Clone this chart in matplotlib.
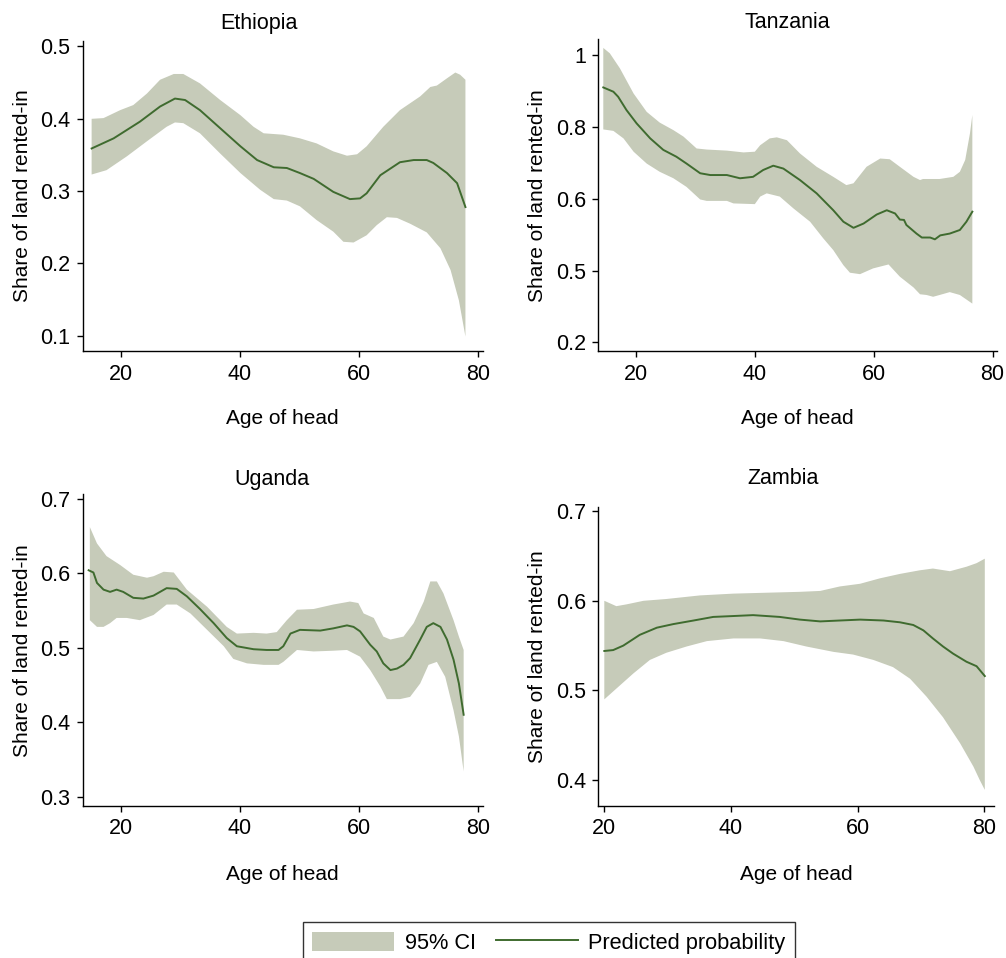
import numpy as np
import matplotlib
matplotlib.use("Agg")
from matplotlib import pyplot as plt
from matplotlib.patches import Patch
from matplotlib.lines import Line2D

plt.rcParams['font.family'] = ['Liberation Sans', 'DejaVu Sans']

FILL = '#c6cbb9'
LINE = '#3f6b2f'

# Ethiopia
eth_age = [15.1, 18.8, 23.2, 26.6, 29.1, 30.8, 33.3, 36.7, 40.1, 42.9, 45.7, 47.9, 50.1,
           52.4, 55.7, 58.5, 60.2, 61.3, 63.6, 66.9, 69.2, 71.4, 72.5, 74.8, 76.5, 77.9]
eth_pred = [0.359, 0.373, 0.396, 0.417, 0.428, 0.426, 0.412, 0.387, 0.362, 0.343, 0.333, 0.332, 0.325,
            0.317, 0.299, 0.289, 0.290, 0.297, 0.322, 0.340, 0.343, 0.343, 0.339, 0.325, 0.311, 0.278]
eth_up_age = [15.1, 17.1, 19.9, 22.1, 24.4, 26.6, 28.9, 30.5, 33.3, 36.7, 40.1, 42.3, 44.0, 47.3, 50.1,
              52.9, 55.7, 58.0, 59.7, 61.3, 64.1, 66.9, 70.3, 72.0, 73.1, 74.8, 76.2, 77.0, 77.9]
eth_up = [0.400, 0.401, 0.412, 0.419, 0.435, 0.454, 0.462, 0.462, 0.449, 0.426, 0.405, 0.389, 0.380, 0.378, 0.373,
          0.366, 0.355, 0.349, 0.351, 0.362, 0.389, 0.412, 0.431, 0.444, 0.446, 0.456, 0.464, 0.461, 0.454]
eth_lo_age = [15.1, 17.6, 21.0, 24.4, 27.7, 29.1, 30.5, 33.3, 36.7, 40.1, 43.4, 45.7, 47.9, 50.1,
              52.9, 55.7, 57.4, 59.1, 61.3, 63.0, 64.7, 66.4, 68.6, 71.4, 73.7, 75.4, 76.8, 77.9]
eth_lo = [0.323, 0.329, 0.348, 0.369, 0.389, 0.395, 0.394, 0.380, 0.352, 0.325, 0.302, 0.289, 0.287, 0.279,
          0.260, 0.244, 0.230, 0.229, 0.239, 0.253, 0.264, 0.263, 0.255, 0.243, 0.221, 0.191, 0.149, 0.099]

# Tanzania
tza_age = [14.5, 16.2, 17.0, 18.4, 20.1, 22.4, 24.6, 26.8, 28.5, 30.8, 32.5, 35.3, 37.5, 39.7, 41.4, 43.1,
           44.8, 47.6, 50.4, 53.2, 54.9, 56.6, 58.3, 60.5, 62.2, 63.6, 64.4, 65.1, 65.5, 67.2, 68.1, 69.5,
           70.3, 71.2, 72.8, 74.5, 75.6, 76.6]
tza_pred = [0.910, 0.898, 0.884, 0.847, 0.810, 0.768, 0.736, 0.717, 0.698, 0.671, 0.666, 0.666, 0.657, 0.661,
            0.680, 0.692, 0.684, 0.652, 0.615, 0.568, 0.536, 0.519, 0.531, 0.556, 0.568, 0.559, 0.542, 0.541,
            0.527, 0.503, 0.492, 0.492, 0.487, 0.498, 0.503, 0.513, 0.536, 0.564]
tza_up_age = [14.5, 15.6, 17.3, 19.6, 21.8, 24.0, 26.3, 28.0, 30.2, 31.9, 35.3, 38.1, 40.0, 40.9, 42.5, 43.7,
              45.4, 47.6, 50.4, 53.2, 55.4, 56.6, 58.8, 61.1, 62.7, 64.4, 66.7, 67.8, 68.3, 71.1, 73.4, 74.5,
              75.4, 76.2, 76.6]
tza_up = [1.020, 1.005, 0.963, 0.893, 0.842, 0.812, 0.791, 0.773, 0.740, 0.737, 0.734, 0.729, 0.731, 0.749,
          0.768, 0.771, 0.763, 0.726, 0.689, 0.661, 0.638, 0.643, 0.689, 0.712, 0.710, 0.689, 0.661, 0.652,
          0.655, 0.655, 0.661, 0.675, 0.708, 0.782, 0.833]
tza_lo_age = [14.5, 16.2, 17.9, 19.6, 21.8, 24.0, 26.3, 28.5, 30.8, 31.9, 35.3, 36.4, 40.0, 40.9, 42.0, 44.2,
              46.5, 49.3, 51.5, 53.2, 54.9, 56.0, 57.7, 59.9, 62.5, 64.4, 66.7, 67.8, 68.9, 70.0, 71.1, 72.8,
              74.5, 76.6]
tza_lo = [0.793, 0.789, 0.768, 0.731, 0.698, 0.675, 0.657, 0.633, 0.598, 0.594, 0.594, 0.587, 0.585, 0.606,
          0.615, 0.606, 0.573, 0.536, 0.490, 0.457, 0.415, 0.394, 0.390, 0.406, 0.417, 0.383, 0.353, 0.334,
          0.332, 0.327, 0.332, 0.340, 0.332, 0.308]

# Uganda
uga_age = [14.6, 15.4, 16.0, 17.1, 18.2, 19.3, 20.4, 22.1, 23.8, 25.5, 27.7, 29.4, 31.1, 33.3, 35.6, 37.8,
           39.5, 42.3, 44.5, 46.5, 47.3, 48.5, 50.1, 53.5, 55.7, 58.0, 59.1, 60.2, 61.9, 63.0, 64.1, 65.3,
           66.4, 67.5, 68.6, 70.3, 71.4, 72.5, 73.7, 74.8, 75.9, 76.8, 77.6]
uga_pred = [0.604, 0.601, 0.587, 0.578, 0.575, 0.578, 0.575, 0.567, 0.566, 0.570, 0.580, 0.579, 0.569, 0.552,
            0.533, 0.513, 0.502, 0.498, 0.497, 0.497, 0.502, 0.519, 0.524, 0.523, 0.526, 0.530, 0.528, 0.522,
            0.504, 0.495, 0.479, 0.470, 0.472, 0.477, 0.486, 0.511, 0.528, 0.533, 0.528, 0.511, 0.484, 0.452, 0.410]
uga_up_age = [14.8, 16.0, 17.6, 19.9, 22.1, 24.4, 25.5, 27.2, 28.9, 31.1, 34.5, 37.8, 39.5, 42.3, 44.5, 46.2,
              47.9, 49.6, 52.4, 55.7, 58.5, 59.9, 60.8, 62.5, 64.1, 65.3, 67.5, 69.2, 70.9, 72.0, 73.1, 74.2,
              75.9, 76.8, 77.6]
uga_up = [0.662, 0.640, 0.623, 0.611, 0.598, 0.594, 0.596, 0.602, 0.601, 0.578, 0.555, 0.528, 0.519, 0.520,
          0.519, 0.521, 0.537, 0.551, 0.552, 0.558, 0.562, 0.560, 0.546, 0.540, 0.515, 0.511, 0.515, 0.533,
          0.562, 0.589, 0.589, 0.573, 0.537, 0.515, 0.497]
uga_lo_age = [14.8, 16.0, 17.1, 18.2, 19.3, 21.0, 23.2, 25.5, 27.7, 29.4, 31.7, 34.5, 37.3, 38.9, 41.2, 44.0,
              46.5, 47.3, 49.6, 52.4, 55.7, 58.0, 60.2, 61.9, 63.6, 64.7, 66.9, 68.6, 70.3, 71.7, 73.1, 74.5,
              75.9, 76.8, 77.6]
uga_lo = [0.537, 0.528, 0.528, 0.533, 0.540, 0.540, 0.537, 0.544, 0.558, 0.558, 0.546, 0.524, 0.502, 0.485,
          0.479, 0.477, 0.477, 0.481, 0.497, 0.495, 0.496, 0.497, 0.488, 0.470, 0.448, 0.431, 0.431, 0.434,
          0.452, 0.477, 0.481, 0.461, 0.416, 0.381, 0.334]

# Zambia
zmb_age = [20.0, 21.4, 23.0, 25.6, 28.3, 30.9, 34.1, 37.2, 40.4, 43.5, 47.7, 50.9, 54.1, 57.2, 60.4, 64.1,
           66.7, 68.8, 70.4, 71.9, 73.5, 75.1, 77.2, 78.8, 80.1]
zmb_pred = [0.544, 0.545, 0.550, 0.562, 0.570, 0.574, 0.578, 0.582, 0.583, 0.584, 0.582, 0.579, 0.577, 0.578,
            0.579, 0.578, 0.576, 0.573, 0.567, 0.558, 0.549, 0.541, 0.532, 0.527, 0.516]
zmb_up_age = [20.0, 21.9, 23.5, 26.2, 29.8, 35.1, 40.4, 45.6, 50.9, 54.1, 57.2, 60.4, 63.5, 66.7, 69.8, 71.9,
              74.6, 77.2, 78.8, 80.1]
zmb_up = [0.600, 0.594, 0.596, 0.600, 0.602, 0.606, 0.608, 0.609, 0.610, 0.611, 0.616, 0.619, 0.625, 0.630,
          0.634, 0.636, 0.633, 0.638, 0.642, 0.647]
zmb_lo_age = [20.0, 21.9, 24.6, 27.2, 29.8, 33.0, 36.2, 40.4, 44.6, 48.3, 51.9, 56.2, 59.3, 62.5, 65.6, 68.3,
              70.9, 73.5, 76.2, 78.3, 79.3, 80.1]
zmb_lo = [0.490, 0.502, 0.519, 0.534, 0.542, 0.549, 0.555, 0.558, 0.558, 0.555, 0.549, 0.543, 0.540, 0.534,
          0.526, 0.513, 0.493, 0.470, 0.441, 0.415, 0.400, 0.389]

x_ticks = [20, 40, 60, 80]
eth_yticks = [0.1, 0.2, 0.3, 0.4, 0.5]
eth_ylabels = ['0.1', '0.2', '0.3', '0.4', '0.5']
tza_yticks = [0.2, 0.4, 0.6, 0.8, 1.0]
tza_ylabels = ['0.2', '0.5', '0.6', '0.8', '1']
uga_yticks = [0.3, 0.4, 0.5, 0.6, 0.7]
uga_ylabels = ['0.3', '0.4', '0.5', '0.6', '0.7']
zmb_yticks = [0.4, 0.5, 0.6, 0.7]
zmb_ylabels = ['0.4', '0.5', '0.6', '0.7']

W, H = 1006, 958
fig = plt.figure(figsize=(W / 100, H / 100), dpi=100)

panels = [
    # name, axes box in px (left, top, right, bottom), title xy, data, limits
    ('Ethiopia', (82.7, 40.7, 482.7, 351), (259, 23),
     eth_age, eth_pred, eth_up_age, eth_up, eth_lo_age, eth_lo,
     (13.6, 80.8), (0.079, 0.508), eth_yticks, eth_ylabels),
    ('Tanzania', (598.3, 39.3, 997.3, 351), (787, 23),
     tza_age, tza_pred, tza_up_age, tza_up, tza_lo_age, tza_lo,
     (13.66, 80.8), (0.176, 1.044), tza_yticks, tza_ylabels),
    ('Uganda', (82.7, 494.3, 482.7, 806), (272, 479),
     uga_age, uga_pred, uga_up_age, uga_up, uga_lo_age, uga_lo,
     (13.6, 80.8), (0.2875, 0.706), uga_yticks, uga_ylabels),
    ('Zambia', (598.3, 506.7, 994.3, 806), (783, 479),
     zmb_age, zmb_pred, zmb_up_age, zmb_up, zmb_lo_age, zmb_lo,
     (19.05, 81.6), (0.371, 0.705), zmb_yticks, zmb_ylabels),
]

for (name, box, tpos, age, pred, up_age, up, lo_age, lo, xlim, ylim, yt, ylab) in panels:
    l, t, r, b = box
    ax = fig.add_axes([l / W, 1 - b / H, (r - l) / W, (b - t) / H])
    # CI band as a polygon: upper bound forward, lower bound back
    ax.fill(np.r_[up_age, lo_age[::-1]], np.r_[up, lo[::-1]],
            color=FILL, linewidth=0)
    ax.plot(age, pred, color=LINE, linewidth=1.4)
    ax.set_xlim(*xlim)
    ax.set_ylim(*ylim)
    ax.set_xticks(x_ticks)
    ax.set_yticks(yt)
    ax.set_yticklabels(ylab)
    for s in ['top', 'right']:
        ax.spines[s].set_visible(False)
    for s in ['left', 'bottom']:
        ax.spines[s].set_linewidth(1.0)
    ax.tick_params(direction='out', length=4, width=1.0, labelsize=15.5, pad=5)
    ax.set_xlabel('Age of head', fontsize=15, labelpad=18)
    ax.set_ylabel('Share of land rented-in', fontsize=15, labelpad=6)
    fig.text(tpos[0] / W, 1 - tpos[1] / H, name, ha='center', va='center', fontsize=15.5)

handles = [Patch(facecolor=FILL, edgecolor='none'),
           Line2D([0], [0], color=LINE, linewidth=1.4)]
leg = fig.legend(handles, ['95% CI', 'Predicted probability'],
                 loc='upper center', bbox_to_anchor=(549 / W, 1 - 921.7 / H),
                 ncol=2, frameon=True, fancybox=False, fontsize=15.7,
                 handlelength=3.75, handleheight=1.0, columnspacing=0.9,
                 handletextpad=0.5, borderpad=0.45, borderaxespad=0)
leg.get_frame().set_edgecolor('black')
leg.get_frame().set_linewidth(1.0)

fig.savefig('out.png', dpi=100)
